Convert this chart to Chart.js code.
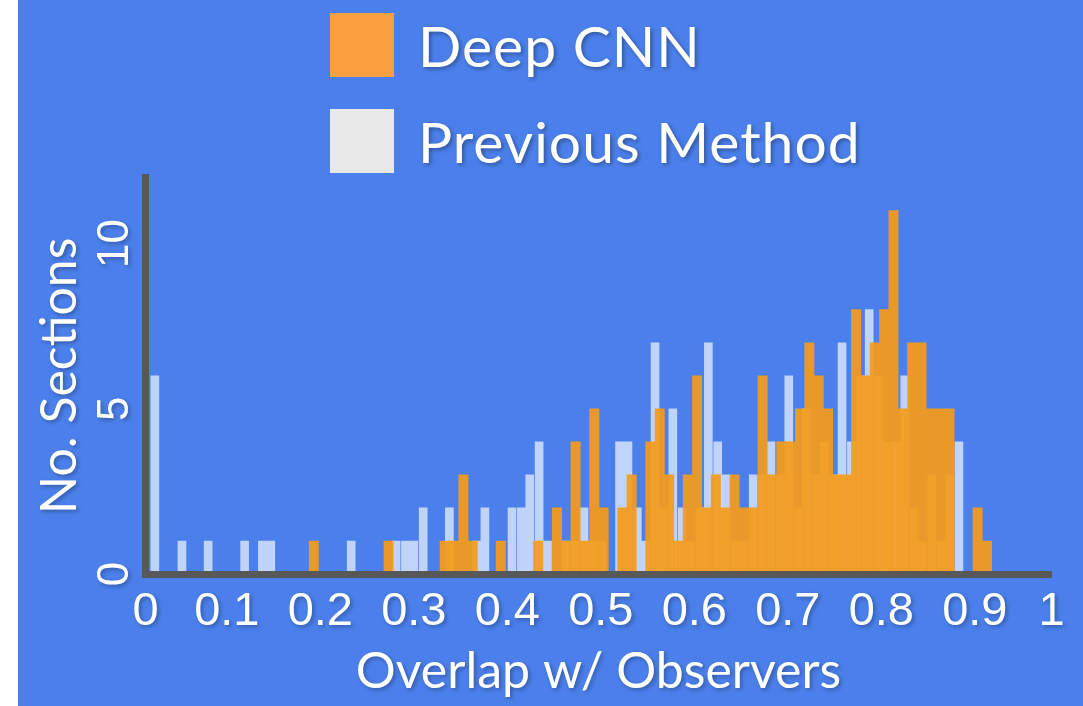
<!DOCTYPE html>
<html>
<head>
<meta charset="utf-8">
<script src="https://cdn.jsdelivr.net/npm/chart.js@4.4.1/dist/chart.umd.min.js"></script>
<style>
    html, body { margin: 0; padding: 0; background: #fff; }
    #stage { position: absolute; left: 18px; top: 0; width: 1065px; height: 706px; background: #4b80ec; overflow: hidden; }
    #chart { position: absolute; left: 0; top: 0; }
    #legend { position: absolute; left: 312px; top: 13px; font-family: Lato, "Open Sans", sans-serif; color: #fff; }
    .legend-row { display: flex; align-items: center; height: 64px; margin-bottom: 32px; }
    .legend-box { display: inline-block; width: 64px; height: 64px; margin-right: 24px; }
    .legend-text { font-size: 57px; line-height: 64px; letter-spacing: 1px; white-space: nowrap; text-shadow: 2px 2px 4px rgba(0, 0, 0, 0.35); }
</style>
</head>
<body>
<div id="stage">
    <canvas id="chart" width="1065" height="706"></canvas>
    <div id="legend"></div>
</div>
<script>
// Deep CNN histogram (bin centres, counts) - only non-empty bins
const cnnBins = [0.193, 0.273, 0.333, 0.343, 0.353, 0.363, 0.393, 0.433,
    0.453, 0.463, 0.473, 0.483, 0.493, 0.503, 0.523, 0.533,
    0.553, 0.563, 0.573, 0.583, 0.593, 0.603, 0.613, 0.623, 0.633, 0.643,
    0.653, 0.663, 0.673, 0.683, 0.693, 0.703, 0.713, 0.723, 0.733, 0.743,
    0.753, 0.763, 0.773, 0.783, 0.793, 0.803, 0.813, 0.823, 0.833, 0.843,
    0.853, 0.863, 0.873, 0.903, 0.913];
const cnnCounts = [1, 1, 1, 1, 3, 1, 1, 1,
    2, 1, 4, 1, 5, 2, 2, 3,
    4, 5, 3, 1, 3, 6, 2, 3, 2, 3,
    2, 2, 6, 3, 4, 4, 5, 7, 6, 5,
    3, 3, 8, 6, 7, 8, 11, 5, 7, 7,
    5, 5, 5, 2, 1];

// Previous method histogram
const prevBins = [0.023, 0.052, 0.080, 0.119, 0.138, 0.147, 0.233, 0.281, 0.291, 0.300,
    0.310, 0.338, 0.367, 0.376, 0.405, 0.415, 0.424, 0.434, 0.443, 0.462,
    0.472, 0.482, 0.491, 0.501, 0.520, 0.529, 0.539, 0.548, 0.558, 0.567,
    0.577, 0.587, 0.596, 0.606, 0.615, 0.625, 0.634, 0.644, 0.653, 0.663,
    0.673, 0.682, 0.692, 0.701, 0.711, 0.720, 0.730, 0.739, 0.749, 0.758,
    0.768, 0.778, 0.787, 0.797, 0.806, 0.816, 0.825, 0.835, 0.844, 0.854,
    0.864, 0.873, 0.883];
const prevCounts = [6, 1, 1, 1, 1, 1, 1, 1, 1, 1,
    2, 2, 1, 2, 2, 2, 3, 4, 1, 1,
    1, 2, 1, 1, 4, 4, 2, 1, 7, 2,
    5, 2, 1, 2, 7, 4, 3, 1, 1, 3,
    3, 4, 3, 6, 2, 5, 3, 4, 3, 7,
    4, 6, 8, 6, 4, 4, 6, 2, 1, 3,
    1, 3, 4];

// the slide puts "0" and "1" right at the ends of the drawn axis
const xMin = 0.013;
const xMax = 0.982;
const xTickValues = [0.013, 0.1, 0.2, 0.3, 0.4, 0.5, 0.6, 0.7, 0.8, 0.9, 0.982];
const xTickLabels = ["0", "0.1", "0.2", "0.3", "0.4", "0.5", "0.6", "0.7", "0.8", "0.9", "1"];
const yTickValues = [0, 5, 10];

function el(tag, attrs = {}, ...children) {
    const n = document.createElement(tag);
    for (const [k, v] of Object.entries(attrs)) {
        if (k === "class") n.className = v;
        else if (k === "style" && typeof v === "object") Object.assign(n.style, v);
        else n.setAttribute(k, v);
    }
    for (const c of children) {
        if (c == null) continue;
        if (typeof c === "string") n.appendChild(document.createTextNode(c));
        else n.appendChild(c);
    }
    return n;
}

function toPoints(bins, counts) {
    return bins.map((x, i) => ({ x: x, y: counts[i] }));
}

function renderLegend(container, chart) {
    container.innerHTML = "";
    for (const ds of chart.data.datasets) {
        container.appendChild(
            el("div", { class: "legend-row" },
                el("span", { class: "legend-box", style: { background: ds.legendColor } }),
                el("span", { class: "legend-text" }, ds.label)
            )
        );
    }
}

// soft drop shadow on the axis texts, switched off again before the bars
const textShadow = {
    id: "textShadow",
    beforeDraw(chart) {
        const c = chart.ctx;
        c.shadowColor = "rgba(0, 0, 0, 0.3)";
        c.shadowBlur = 4;
        c.shadowOffsetX = 2;
        c.shadowOffsetY = 2;
    },
    beforeDatasetsDraw(chart) {
        const c = chart.ctx;
        c.shadowColor = "rgba(0, 0, 0, 0)";
        c.shadowBlur = 0;
        c.shadowOffsetX = 0;
        c.shadowOffsetY = 0;
    }
};

const axisBorder = { color: "#585858", width: 7, z: 1 };
const tickFont = { family: "'Liberation Sans', Arial, sans-serif" };
const titleFont = { family: "Lato, 'Open Sans', sans-serif", size: 50 };

function createChart() {
    const ctx = document.getElementById("chart");
    const chart = new Chart(ctx, {
        type: "bar",
        data: {
            datasets: [{
                label: "Deep CNN",
                data: toPoints(cnnBins, cnnCounts),
                backgroundColor: "rgba(245, 155, 25, 0.92)",
                legendColor: "#f8a040",
                borderWidth: 0,
                barThickness: 9.3,
                grouped: false
            }, {
                label: "Previous Method",
                data: toPoints(prevBins, prevCounts),
                backgroundColor: "rgba(255, 255, 255, 0.65)",
                legendColor: "#e8e8e8",
                borderWidth: 0,
                barThickness: 8,
                grouped: false
            }]
        },
        options: {
            responsive: false,
            animation: false,
            layout: { padding: { top: 177.5, right: 31.5, left: 0, bottom: 0 } },
            plugins: {
                legend: { display: false },
                tooltip: { enabled: false }
            },
            scales: {
                x: {
                    type: "linear",
                    offset: false,
                    min: xMin,
                    max: xMax,
                    afterBuildTicks: scale => { scale.ticks = xTickValues.map(v => ({ value: v })); },
                    afterFit: scale => { scale.height = 132; },
                    grid: { display: false, drawTicks: false, offset: false },
                    border: axisBorder,
                    ticks: {
                        autoSkip: false,
                        maxRotation: 0,
                        color: "#fff",
                        padding: 10,
                        font: { ...tickFont, size: 47 },
                        callback: (value, index) => xTickLabels[index]
                    },
                    title: {
                        display: true,
                        text: "Overlap w/ Observers",
                        color: "#fff",
                        font: titleFont,
                        padding: { top: 0, bottom: 4 }
                    }
                },
                y: {
                    min: 0,
                    max: 12,
                    afterBuildTicks: scale => { scale.ticks = yTickValues.map(v => ({ value: v })); },
                    afterFit: scale => { scale.width = 127.5; },
                    grid: { display: false, drawTicks: false },
                    border: axisBorder,
                    ticks: {
                        color: "#fff",
                        padding: 5,
                        minRotation: 90,
                        maxRotation: 90,
                        crossAlign: "center",
                        font: { ...tickFont, size: 44 }
                    },
                    title: {
                        display: true,
                        text: "No. Sections",
                        color: "#fff",
                        font: titleFont,
                        padding: { top: 12, bottom: 0 }
                    }
                }
            }
        },
        plugins: [textShadow]
    });
    renderLegend(document.getElementById("legend"), chart);
}

if (document.readyState === "loading") {
    document.addEventListener("DOMContentLoaded", createChart);
} else {
    createChart();
}
</script>
</body>
</html>
